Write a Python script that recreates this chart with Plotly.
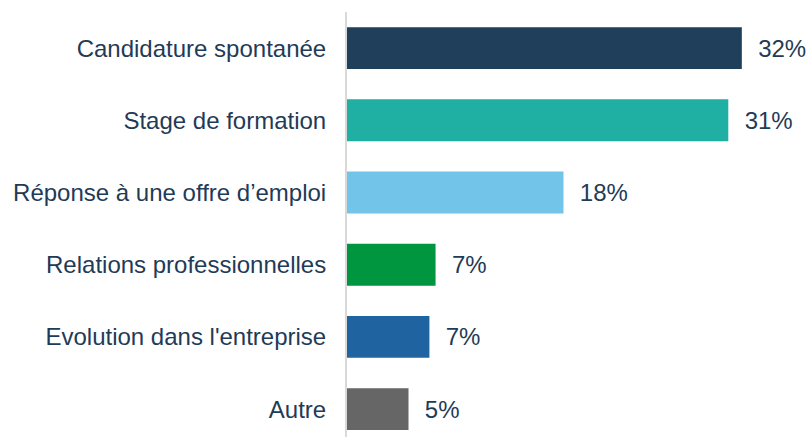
import plotly.graph_objects as go

categories = ["Candidature spontanée", "Stage de formation", "Réponse à une offre d’emploi",
              "Relations professionnelles", "Evolution dans l'entreprise", "Autre"]
values = [32.1, 31.0, 17.6, 7.2, 6.7, 5.0]
labels = ["32%", "31%", "18%", "7%", "7%", "5%"]
colors = ["#1F3F5B", "#20AFA3", "#72C4E8", "#00963F", "#1F63A0", "#666666"]

text_color = "#1F3B57"
FONT = "Liberation Sans, Arial, sans-serif"

fig = go.Figure(go.Bar(
    x=values,
    y=categories,
    orientation="h",
    marker=dict(color=colors, line=dict(width=0)),
    width=0.58,
    text=["\u00a0\u00a0" + t for t in labels],
    textposition="outside",
    textfont=dict(family=FONT, size=24, color=text_color),
    cliponaxis=False,
    hoverinfo="skip",
))

fig.update_layout(
    width=807, height=437,
    margin=dict(l=347, r=0, t=12, b=0),
    paper_bgcolor="white", plot_bgcolor="white",
    showlegend=False,
    font=dict(family=FONT, size=24, color=text_color),
)
fig.update_xaxes(range=[0, 460 / 12.3], visible=False, showgrid=False, zeroline=False)
fig.update_yaxes(
    range=[5.386, -0.5],
    showline=True, linecolor="#D9D9D9", linewidth=2,
    showgrid=False, zeroline=False,
    ticks="", ticklabelstandoff=14,
    tickfont=dict(family=FONT, size=24, color=text_color),
)

fig.write_html(
    "out.html",
    config={"displayModeBar": False},
    post_script="document.body.style.margin='0';document.body.style.overflow='hidden';",
)
